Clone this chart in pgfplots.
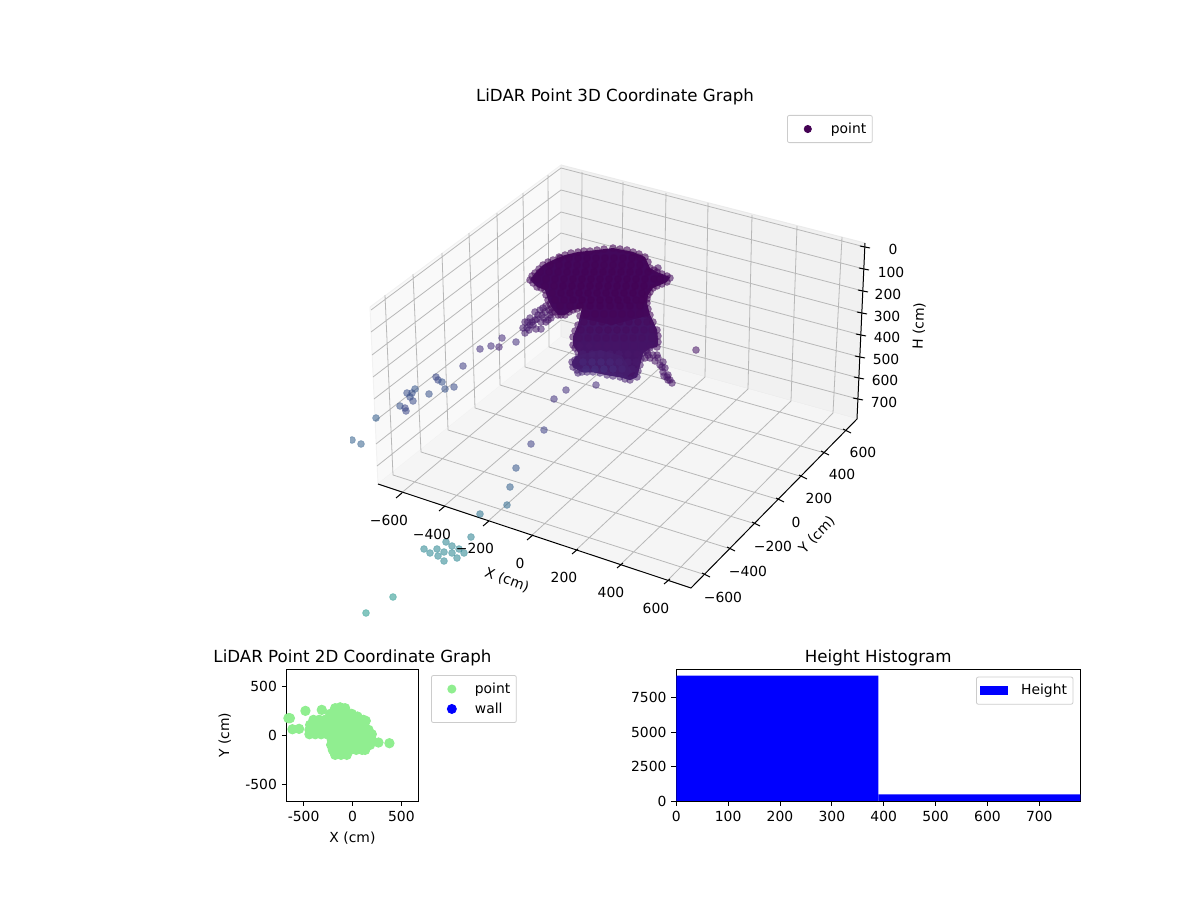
\documentclass[border=0pt]{standalone}
\usepackage{pgfplots}
\usepackage{fontspec}
\setmainfont{DejaVu Sans}
\pgfplotsset{compat=1.18}
\definecolor{gridc}{HTML}{B8B8B8}
\definecolor{legc}{HTML}{CCCCCC}
\definecolor{vio}{HTML}{440154}
\newcommand{\tfont}{\fontsize{10.42}{12.5}\selectfont}
\newcommand{\Tfont}{\fontsize{12.5}{15}\selectfont}
\pgfplotsset{
  every axis/.append style={font=\tfont, /pgf/number format/assume math mode=true,
    /pgf/number format/1000 sep={}, line width=0.7pt},
  flat/.style={scale only axis, tick align=outside, major tick length=3.65pt,
    xtick pos=bottom, ytick pos=left, every tick/.style={black,line width=0.7pt},
    title style={font=\Tfont, yshift=-7pt}},
  mpllegbox/.style={draw=legc, rounded corners=1.5pt, line width=0.6pt, font=\tfont,
    inner xsep=2.5pt, inner ysep=3.5pt, row sep=1.5pt},
  markkey/.style={legend image code/.code={\path (0pt,0pt) (27.5pt,0pt);
    \fill[sharp corners,##1] (12.5pt,0pt) circle[radius=#1];}},
  barkey/.style={legend image code/.code={\path (0pt,0pt) (29pt,0pt);\fill[sharp corners,blue] (0pt,-3.6pt) rectangle (21pt,3.6pt);}},
  cloud/.style={forget plot, scatter, only marks, mark=*, mark size=2.6pt, scatter src=explicit,
    scatter/use mapped color={draw=mapped color, fill=mapped color},
    mark options={fill opacity=0.55, draw opacity=0.35, line width=0.6pt}},
}
\pgfplotstableread{
x y c
696 350 40
502 338 110
491 346 115
480 349 120
499 347 90
516 342 120
541 329 70
463 366 160
436 377 190
438 380 190
442 382 220
454 387 200
445 389 220
415 389 230
407 393 210
412 393 210
410 397 210
413 401 200
429 394 220
400 406 220
405 408 190
406 411 190
376 418 250
352 440 260
361 444 260
596 385 110
566 390 120
554 399 130
544 430 170
531 444 170
516 468 230
510 487 260
507 505 290
480 514 320
471 537 360
446 542 370
452 546 370
459 549 370
464 553 380
424 549 380
437 549 380
444 552 380
452 553 380
430 553 380
438 556 380
457 558 380
444 561 380
393 597 440
366 613 450
}\sparse
\pgfplotstableread{
x y c
550 315 50
545 312 55
540 310 60
535 312 60
530 318 60
525 322 65
523 328 70
525 333 70
533 325 60
538 315 60
530 325 65
528 322 65
535 320 60
544 318 55
548 320 55
527 328 70
549 310 40
546 306 40
551 318 45
542 315 50
537 319 55
541 322 55
546 322 50
532 322 60
529 330 65
536 329 60
552 312 40
543 308 45
647 352 45
653 355 45
658 358 45
663 362 45
663 372 50
667 377 50
672 383 50
668 380 50
657 355 45
645 358 45
648 355 45
662 367 50
665 368 50
660 365 50
668 375 50
655 361 45
650 358 45
664 376 50
670 380 50
658 268 30
670 278 30
578 373 90
530 280 25
532 276 22
535 273 20
539 269 18
543 265 15
548 262 14
553 260 12
559 257 12
565 255 10
571 253 10
578 252 8
584 251 8
590 251 8
597 250 8
604 249 8
613 248 8
620 249 8
627 250 8
633 252 8
639 254 8
645 257 8
648 262 10
650 268 10
654 270 12
657 272 14
662 274 15
667 276 15
667 282 15
662 284 12
657 286 12
653 288 10
650 292 10
648 295 12
647 299 14
647 303 15
648 309 18
650 315 20
653 322 24
657 330 30
658 336 32
658 342 36
657 347 38
650 348 42
646 351 48
643 353 52
641 359 56
640 365 60
638 371 66
637 377 72
630 380 76
625 379 78
620 377 80
613 376 84
607 375 86
600 373 88
593 372 92
587 372 92
582 372 92
577 370 80
573 367 75
572 362 72
575 360 70
578 358 68
578 352 55
575 348 45
573 345 40
573 337 36
575 331 32
578 325 30
580 316 22
582 308 15
577 309 15
573 310 18
569 312 18
565 315 18
561 315 18
558 315 20
555 312 20
552 308 18
550 304 18
548 300 18
546 295 20
545 290 20
541 288 22
537 287 22
533 283 24
}\blobmarks
\pgfplotstableread{
x y c
560 258 6
569 258 6
578 258 5
587 258 5
596 258 5
605 258 5
614 258 5
623 258 5
632 258 5
640 258 6
550 265 8
559 265 6
568 265 4
577 265 4
586 265 3
595 265 3
604 265 3
613 265 3
622 265 3
631 265 3
640 265 5
540 272 12
549 272 8
558 272 6
567 272 3
576 272 2
585 272 2
594 272 1
603 272 1
612 272 1
621 272 1
630 272 1
639 272 2
648 272 4
537 279 14
546 279 10
555 279 6
564 279 3
573 279 1
582 279 0
591 279 0
600 279 0
609 279 0
618 279 0
627 279 0
636 279 0
645 279 2
654 279 5
660 279 8
545 286 12
554 286 8
563 286 2
572 286 0
581 286 0
590 286 0
599 286 0
608 286 0
617 286 0
626 286 0
635 286 0
644 286 2
552 293 10
561 293 4
570 293 1
579 293 0
588 293 0
597 293 0
606 293 0
615 293 0
624 293 0
633 293 0
642 293 3
555 300 10
564 300 6
573 300 2
582 300 0
591 300 0
600 300 0
609 300 0
618 300 0
627 300 1
636 300 3
642 300 6
560 306 10
570 306 8
580 306 3
590 306 2
600 306 2
610 306 3
620 306 3
630 306 5
640 306 8
586 314 12
595 314 10
604 314 10
613 314 10
622 314 10
631 314 12
640 314 14
645 314 16
584 322 20
593 322 16
602 322 16
611 322 16
620 322 16
629 322 18
638 322 20
647 322 24
581 330 28
590 330 24
599 330 22
608 330 22
617 330 22
626 330 24
635 330 26
644 330 30
652 330 32
579 338 36
588 338 34
597 338 32
606 338 32
615 338 32
624 338 32
633 338 34
642 338 36
652 338 38
580 346 48
589 346 48
598 346 46
607 346 46
616 346 44
625 346 42
634 346 42
643 346 42
650 346 42
583 354 75
592 354 78
601 354 76
610 354 70
619 354 64
628 354 56
637 354 50
583 362 100
592 362 110
601 362 110
610 362 100
619 362 85
628 362 70
636 362 60
586 369 115
595 369 125
604 369 125
613 369 110
622 369 90
632 369 72
}\blobinner
\begin{document}
\begin{tikzpicture}[x=1pt,y=1pt]
\path[use as bounding box] (0,0) rectangle (900,675);
% ---------- 3D panel, in projected picture coordinates (pixels)
\begin{axis}[at={(262.5pt,0pt)}, anchor=south west, scale only axis, width=637.5pt, height=675pt,
  xmin=350, xmax=1200, ymin=0, ymax=900, y dir=reverse, axis lines=none,
  clip mode=individual, clip marker paths=true, unbounded coords=jump,
  colormap name=viridis, point meta min=0, point meta max=850,
  legend style={mpllegbox, at={(axis cs:787,115)}, anchor=north west}, legend cell align=left,
  markkey=2.7pt]
% panes
\addplot[forget plot, fill=black!2.5, draw=black!5] coordinates {(370,307)(561,165)(561,337)(378,484)(370,307)};
\addplot[forget plot, fill=black!5.5, draw=black!8] coordinates {(561,165)(865,243)(857,419)(561,337)(561,165)};
\addplot[forget plot, fill=black!4, draw=none] coordinates {(378,484)(561,337)(857,419)(691,588)(378,484)};
% grid
\addplot[forget plot, gridc, line width=0.6pt] coordinates {
(371,310)(561,168) (nan,nan) (371,332)(561,190) (nan,nan) (372,355)(561,212) (nan,nan) (373,377)(561,233) (nan,nan)
(374,399)(561,255) (nan,nan) (375,421)(561,277) (nan,nan) (376,444)(561,298) (nan,nan) (377,466)(561,320) (nan,nan)
(561,168)(865,247) (nan,nan) (561,190)(864,269) (nan,nan) (561,212)(863,291) (nan,nan) (561,233)(862,313) (nan,nan)
(561,255)(861,335) (nan,nan) (561,277)(860,357) (nan,nan) (561,298)(859,378) (nan,nan) (561,320)(858,399) (nan,nan)
(385,295)(393,475) (nan,nan) (413,274)(421,452) (nan,nan) (442,253)(448,430) (nan,nan) (469,233)(475,408) (nan,nan)
(497,213)(500,385) (nan,nan) (523,193)(525,367) (nan,nan) (548,175)(549,347) (nan,nan)
(582,172)(581,343) (nan,nan) (623,182)(621,354) (nan,nan) (666,193)(663,365) (nan,nan) (708,203)(705,377) (nan,nan)
(752,215)(748,389) (nan,nan) (797,226)(791,401) (nan,nan) (842,237)(833,413) (nan,nan)
(399,495)(581,343) (nan,nan) (442,508)(621,354) (nan,nan) (486,523)(663,365) (nan,nan) (530,537)(705,377) (nan,nan)
(575,551)(748,389) (nan,nan) (620,565)(791,401) (nan,nan) (667,581)(833,413) (nan,nan)
(393,475)(706,575) (nan,nan) (421,452)(731,549) (nan,nan) (448,430)(756,524) (nan,nan) (475,408)(780,500) (nan,nan)
(500,385)(803,477) (nan,nan) (525,367)(825,453) (nan,nan) (549,347)(847,431)
};
% axis lines and ticks
\addplot[forget plot, black, line width=0.75pt] coordinates {(378,484)(691,588)(857,419)(865,243)};
\addplot[forget plot, black, line width=0.75pt] coordinates {
(396,498)(402,493) (nan,nan) (439,511)(445,506) (nan,nan) (483,526)(489,521) (nan,nan) (527,540)(533,535) (nan,nan)
(572,554)(578,549) (nan,nan) (617,568)(623,563) (nan,nan) (664,584)(670,579) (nan,nan)
(702,573)(710,577) (nan,nan) (727,547)(735,551) (nan,nan) (752,522)(760,526) (nan,nan) (776,498)(784,502) (nan,nan)
(799,475)(807,479) (nan,nan) (821,451)(829,455) (nan,nan) (843,429)(851,433) (nan,nan)
(860,246)(870,248) (nan,nan) (859,268)(869,270) (nan,nan) (858,290)(868,292) (nan,nan) (857,312)(867,314) (nan,nan)
(856,334)(866,336) (nan,nan) (855,356)(865,358) (nan,nan) (854,377)(864,379) (nan,nan) (853,398)(863,400)
};
% body of the dense cloud
\addplot[forget plot, fill={rgb,255:red,67;green,8;blue,92}, draw=none] coordinates {(530,280)(535,273)(543,265)(553,260)(565,255)(578,252)(597,250)(613,248)(633,252)(645,257)(650,268)(657,272)(670,277)(667,282)(653,288)(648,295)(647,303)(650,315)(657,330)(658,342)(657,347)(650,348)(643,353)(640,365)(637,377)(630,380)(620,377)(607,375)(593,372)(582,372)(573,367)(572,362)(578,358)(578,352)(573,345)(573,337)(578,325)(582,308)(573,310)(565,315)(558,315)(552,308)(548,300)(545,290)(537,287)(530,280)};
\addplot[forget plot, fill={rgb,255:red,68;green,20;blue,102}, draw=none] coordinates {(573,337)(578,325)(580,318)(612,325)(650,315)(657,330)(658,342)(657,347)(650,348)(643,353)(640,365)(637,377)(630,380)(620,377)(607,375)(593,372)(582,372)(573,367)(572,362)(578,358)(578,352)(573,345)(573,337)};
\addplot[forget plot, fill={rgb,255:red,69;green,28;blue,108}, draw=none] coordinates {(576,356)(600,350)(622,356)(632,372)(625,378)(607,375)(593,372)(582,372)(573,367)(572,362)(576,356)};
% points
\addplot[cloud] table[x=x,y=y,meta=c] {\blobmarks};
\addplot[cloud] table[x=x,y=y,meta=c] {\blobinner};
\addplot[cloud] table[x=x,y=y,meta=c] {\sparse};
% legend
\addlegendimage{vio}
\addlegendentry{point}
% texts
\node at (axis cs:615,96.5) {\Tfont LiDAR Point 3D Coordinate Graph};
\node at (axis cs:389,520) {−600};
\node at (axis cs:432,534) {−400};
\node at (axis cs:475,548) {−200};
\node at (axis cs:520,563) {0};
\node at (axis cs:564,577) {200};
\node at (axis cs:611,592) {400};
\node at (axis cs:656,608) {600};
\node[rotate=-20] at (axis cs:507,580) {X (cm)};
\node at (axis cs:723,597) {−600};
\node at (axis cs:748,571) {−400};
\node at (axis cs:773,546) {−200};
\node at (axis cs:796,522) {0};
\node at (axis cs:819,498) {200};
\node at (axis cs:842,474) {400};
\node at (axis cs:863,452) {600};
\node[rotate=46] at (axis cs:817,535) {Y (cm)};
\node at (axis cs:893,249) {0};
\node at (axis cs:891,272) {100};
\node at (axis cs:888,294) {200};
\node at (axis cs:887,316) {300};
\node at (axis cs:887,337) {400};
\node at (axis cs:886,359) {500};
\node at (axis cs:885,380) {600};
\node at (axis cs:884,402) {700};
\node[rotate=88] at (axis cs:919,326) {H (cm)};
\end{axis}
% ---------- 2D panel
\begin{axis}[flat, at={(215pt,74.25pt)}, anchor=south west, width=98.7pt, height=98.7pt,
  xmin=-673, xmax=673, ymin=-673, ymax=673,
  xtick={-500,0,500}, ytick={-500,0,500},
  xlabel={X (cm)}, ylabel={Y (cm)}, title={LiDAR Point 2D Coordinate Graph},
  xlabel style={yshift=-0.75pt}, ylabel style={yshift=3.75pt},
  legend style={mpllegbox, at={(1.097,0.957)}, anchor=north west}, legend cell align=left, markkey=3.4pt]
\addplot[only marks, mark=*, mark size=3.5pt, draw=none, color={rgb,255:red,144;green,238;blue,144}] coordinates {
(-655,174)(-640,174)(-481,249)(-314,259)(-614,61)(-546,65)(378,-82)(266,-75)(136,147)(51,191)
(-177,276)(-126,285)(-75,276)
(-228,218)(-168,218)(-108,218)(-48,218)(-7,218)
(-399,157)(-340,157)(-280,157)(-220,157)(-160,157)(-100,157)(-40,157)(20,157)(80,157)(112,157)
(-433,106)(-373,106)(-313,106)(-253,106)(-193,106)(-133,106)(-73,106)(-13,106)(47,106)(112,106)
(-440,55)(-380,55)(-320,55)(-260,55)(-200,55)(-140,55)(-80,55)(-20,55)(40,55)(100,55)(164,55)
(-440,10)(-380,10)(-320,10)(-260,10)(-200,10)(-140,10)(-80,10)(-20,10)(40,10)(100,10)(160,10)(198,10)
(-211,-48)(-151,-48)(-91,-48)(-31,-48)(29,-48)(89,-48)(149,-48)(198,-48)
(-218,-99)(-158,-99)(-98,-99)(-38,-99)(22,-99)(82,-99)(142,-99)(180,-99)
(-201,-150)(-141,-150)(-81,-150)(-21,-150)(39,-150)(99,-150)(130,-150)
(-177,-201)(-117,-201)(-58,-201)
};
\addlegendentry{point}
\addlegendimage{blue}
\addlegendentry{wall}
\end{axis}
% ---------- histogram
\begin{axis}[flat, at={(507.2pt,74.25pt)}, anchor=south west, width=303pt, height=98.7pt,
  xmin=0, xmax=779, ymin=0, ymax=9570,
  xtick={0,100,...,700}, ytick={0,2500,5000,7500},
  scaled y ticks=false, title={Height Histogram},
  legend style={mpllegbox, at={(0.983,0.945)}, anchor=north east}, legend cell align=left, barkey]
\addplot[fill=blue, draw=none, forget plot] coordinates {(0,0)(0,9116)(389.5,9116)(389.5,0)(0,0)};
\addplot[fill=blue, draw=none] coordinates {(389.5,0)(389.5,490)(779,490)(779,0)(389.5,0)};
\addlegendentry{Height}
\end{axis}
\end{tikzpicture}
\end{document}
